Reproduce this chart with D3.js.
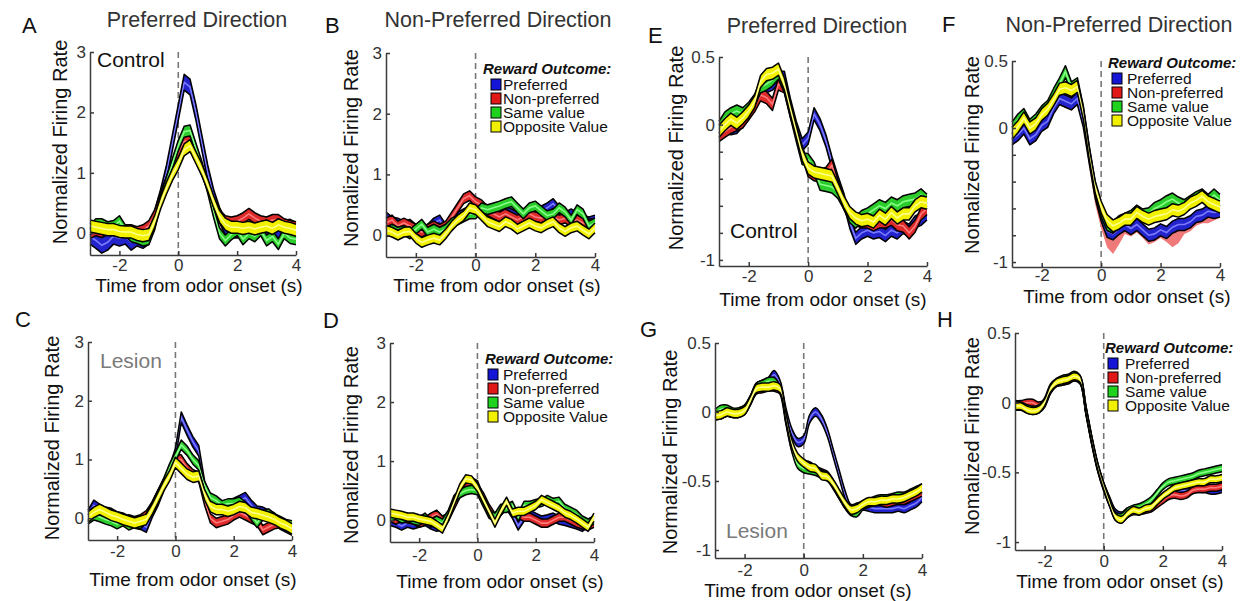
<!DOCTYPE html>
<html><head><meta charset="utf-8">
<script src="https://cdn.jsdelivr.net/npm/d3@7"></script>
<style>
body{margin:0;background:#fff;}
svg{display:block;font-family:"Liberation Sans",Arial,Helvetica,sans-serif;}
</style>
</head><body>
<svg id="chart" width="1244" height="601"></svg>
<script>
// ---------- DATA ----------
const time = [-3.0,-2.8,-2.6,-2.4,-2.2,-2.0,-1.8,-1.6,-1.4,-1.2,-1.0,-0.8,
              -0.6,-0.4,-0.2,0.0,0.2,0.4,0.6,0.8,1.0,1.2,1.4,1.6,
              1.8,2.0,2.2,2.4,2.6,2.8,3.0,3.2,3.4,3.6,3.8,4.0];
const seriesNames = ["Preferred","Non-preferred","Same value","Opposite Value"];
const xTicks = [-2,0,2,4];
const xTickLabels = ["-2","0","2","4"];
const yTicksRate = [0,1,2,3];
const yTickLabelsRate = ["0","1","2","3"];
const yTicksEF = [0.5,0,-0.2,-0.4,-0.6,-0.8,-1];
const yTickLabelsEF = ["0.5","0","","","","","-1"];
const yTicksGH = [0.5,0,-0.5,-1];
const yTickLabelsGH = ["0.5","0","-0.5","-1"];

// Panel A (Control, preferred direction)
const aPreferred = [-0.05,-0.12,-0.20,-0.15,-0.05,-0.08,-0.05,-0.15,-0.08,-0.12,-0.05,0.25,
  0.60,1.00,1.50,2.00,2.50,2.42,2.00,1.50,1.00,0.60,0.30,0.10,
  0.05,0.05,0.10,0.05,0.08,0.10,0.05,0.10,0.05,0.08,0.10,0.05];
const aNonPreferred = [0.00,0.05,0.02,0.10,0.05,0.08,0.05,0.05,0.02,0.05,0.12,0.30,
  0.60,0.85,1.10,1.35,1.52,1.52,1.30,1.05,0.80,0.50,0.30,0.20,
  0.18,0.20,0.25,0.32,0.25,0.20,0.18,0.22,0.22,0.15,0.12,0.10];
const aSameValue = [0.06,0.15,0.15,0.10,0.12,0.20,0.05,-0.05,-0.08,-0.12,-0.10,0.15,
  0.55,0.85,1.15,1.45,1.68,1.70,1.40,1.10,0.75,0.35,0.00,-0.12,
  -0.02,0.05,-0.10,0.00,-0.05,0.05,-0.12,-0.05,-0.18,0.00,-0.08,-0.10];
const aOppositeValue = [0.12,0.10,0.08,0.06,0.06,0.03,0.02,0.02,-0.02,-0.04,-0.02,0.20,
  0.50,0.75,0.97,1.15,1.38,1.45,1.25,1.05,0.80,0.52,0.28,0.15,
  0.10,0.10,0.08,0.10,0.07,0.10,0.12,0.08,0.14,0.10,0.08,0.05];
const aSem = [0.13,0.09,0.09,0.10];

// Panel B (Control, non-preferred direction)
const bPreferred = [0.30,0.22,0.20,0.15,0.18,0.10,0.05,0.10,0.20,0.25,0.10,0.20,
  0.30,0.35,0.40,0.45,0.40,0.35,0.35,0.30,0.40,0.35,0.30,0.35,
  0.40,0.35,0.40,0.45,0.52,0.40,0.30,0.35,0.30,0.25,0.22,0.25];
const bNonPreferred = [0.20,0.25,0.15,0.20,0.15,0.10,0.05,0.10,0.15,0.10,0.15,0.30,
  0.45,0.60,0.65,0.55,0.50,0.40,0.35,0.30,0.35,0.30,0.25,0.30,
  0.35,0.30,0.28,0.32,0.30,0.25,0.28,0.22,0.25,0.20,0.18,0.20];
const bSameValue = [0.05,0.10,0.05,0.08,0.02,0.10,0.18,0.05,0.10,0.05,0.10,0.20,
  0.25,0.30,0.35,0.35,0.45,0.42,0.45,0.48,0.52,0.55,0.45,0.35,
  0.45,0.48,0.40,0.32,0.35,0.45,0.38,0.25,0.42,0.35,0.15,0.20];
const bOppositeValue = [0.08,0.05,0.00,0.05,0.06,-0.05,-0.12,-0.08,-0.05,-0.08,0.02,0.15,
  0.25,0.32,0.45,0.42,0.32,0.22,0.18,0.14,0.22,0.18,0.10,0.15,
  0.20,0.15,0.12,0.18,0.22,0.12,0.06,0.12,0.15,0.08,0.02,0.12];
const bSem = [0.08,0.08,0.08,0.08];

// Panel C (Lesion, preferred direction)
const cPreferred = [0.05,0.22,0.15,0.10,0.08,0.02,0.00,-0.05,-0.08,-0.10,-0.15,0.10,
  0.30,0.55,0.80,1.10,1.72,1.50,1.30,1.15,0.55,0.28,0.22,0.20,
  0.22,0.25,0.30,0.35,0.22,0.12,0.10,0.05,0.00,-0.10,-0.15,-0.20];
const cNonPreferred = [0.05,0.08,0.10,0.05,0.02,0.00,-0.05,-0.02,-0.05,-0.02,0.05,0.20,
  0.40,0.60,0.80,1.00,1.00,0.85,0.75,0.70,0.30,0.00,-0.08,-0.05,
  -0.02,0.05,0.10,0.05,0.00,-0.05,-0.20,-0.15,-0.10,-0.08,-0.12,-0.15];
const cSameValue = [-0.02,0.05,0.02,-0.02,-0.05,-0.10,-0.05,-0.12,-0.08,-0.10,0.00,0.20,
  0.40,0.60,0.85,1.05,1.25,1.15,1.00,0.90,0.55,0.35,0.30,0.22,
  0.25,0.25,0.28,0.20,0.05,-0.08,0.05,0.08,0.00,-0.05,-0.10,-0.12];
const cOppositeValue = [0.02,0.10,0.15,0.10,0.05,0.02,-0.02,-0.05,-0.08,-0.05,-0.02,0.15,
  0.35,0.55,0.72,0.95,0.85,0.75,0.70,0.72,0.40,0.20,0.15,0.15,
  0.12,0.15,0.20,0.18,0.10,0.08,0.05,0.02,-0.02,-0.08,-0.12,-0.18];
const cSem = [0.09,0.08,0.08,0.09];

// Panel D (Lesion, non-preferred direction)
const dPreferred = [-0.02,-0.05,-0.10,-0.05,-0.08,-0.05,-0.02,-0.08,-0.12,-0.10,0.05,0.28,
  0.50,0.60,0.65,0.60,0.35,0.15,0.00,0.15,0.25,0.10,-0.10,0.05,
  0.10,0.05,0.00,0.02,0.05,0.00,-0.02,-0.05,-0.08,-0.12,-0.05,-0.02];
const dNonPreferred = [0.05,0.00,0.05,0.02,0.00,-0.05,-0.02,0.05,0.10,0.00,0.05,0.25,
  0.45,0.55,0.62,0.55,0.40,0.20,0.05,0.15,0.28,0.15,0.10,0.05,
  0.05,0.00,-0.05,-0.05,0.00,0.05,0.05,0.00,-0.05,-0.08,-0.10,-0.05];
const dSameValue = [0.05,0.08,0.02,0.05,0.00,-0.02,0.05,-0.05,0.00,-0.05,0.10,0.35,
  0.45,0.50,0.52,0.50,0.30,0.10,0.05,0.20,0.20,0.25,0.05,0.25,
  0.25,0.28,0.30,0.35,0.30,0.32,0.20,0.15,0.10,0.00,-0.05,0.00];
const dOppositeValue = [0.12,0.10,0.08,0.05,0.05,0.02,0.00,-0.02,-0.08,-0.15,0.05,0.30,
  0.55,0.70,0.68,0.55,0.35,0.15,-0.05,0.15,0.32,0.12,0.15,0.15,
  0.20,0.25,0.35,0.30,0.25,0.20,0.12,0.08,0.02,-0.05,-0.12,0.05];
const dSem = [0.07,0.07,0.07,0.07];

// Panel E (Control, preferred direction)
const ePreferred = [-0.05,-0.02,-0.03,-0.02,0.03,0.08,0.15,0.25,0.28,0.30,0.35,0.35,
  0.15,-0.02,-0.15,-0.10,0.08,0.00,-0.12,-0.28,-0.42,-0.55,-0.72,-0.84,
  -0.80,-0.78,-0.80,-0.79,-0.82,-0.78,-0.80,-0.76,-0.78,-0.72,-0.70,-0.66];
const eNonPreferred = [-0.08,-0.05,-0.02,0.00,0.02,0.08,0.14,0.22,0.20,0.15,0.30,0.28,
  0.10,-0.05,-0.20,-0.34,-0.37,-0.38,-0.36,-0.30,-0.45,-0.58,-0.66,-0.70,
  -0.72,-0.72,-0.74,-0.72,-0.72,-0.70,-0.74,-0.75,-0.80,-0.75,-0.66,-0.62];
const eSameValue = [-0.02,0.05,0.08,0.10,0.08,0.12,0.18,0.28,0.30,0.33,0.38,0.28,
  0.10,-0.08,-0.25,-0.26,-0.32,-0.44,-0.45,-0.46,-0.50,-0.58,-0.68,-0.72,
  -0.68,-0.66,-0.63,-0.60,-0.62,-0.58,-0.60,-0.57,-0.56,-0.55,-0.52,-0.56];
const eOppositeValue = [-0.05,0.00,0.04,0.01,0.05,0.10,0.17,0.32,0.37,0.38,0.41,0.30,
  0.12,-0.05,-0.22,-0.32,-0.35,-0.36,-0.37,-0.38,-0.47,-0.57,-0.65,-0.69,
  -0.71,-0.70,-0.72,-0.67,-0.70,-0.65,-0.69,-0.66,-0.66,-0.60,-0.57,-0.58];
const eSem = [0.045,0.045,0.045,0.045];

// Panel F (Control, non-preferred direction)
const fPreferred = [-0.08,-0.05,0.00,-0.08,-0.05,0.02,0.05,0.15,0.22,0.20,0.18,0.22,
  0.05,-0.22,-0.48,-0.65,-0.77,-0.79,-0.75,-0.72,-0.75,-0.72,-0.76,-0.80,
  -0.79,-0.76,-0.78,-0.74,-0.72,-0.72,-0.70,-0.66,-0.65,-0.62,-0.63,-0.62];
const fNonPreferred = [-0.08,-0.05,0.00,-0.08,-0.05,0.02,0.05,0.15,0.22,0.20,0.18,0.22,
  0.05,-0.24,-0.52,-0.70,-0.84,-0.89,-0.82,-0.74,-0.76,-0.73,-0.77,-0.82,
  -0.80,-0.77,-0.80,-0.84,-0.81,-0.74,-0.72,-0.68,-0.66,-0.66,-0.64,-0.62];
const fSameValue = [0.00,0.06,0.10,0.02,0.06,0.12,0.16,0.25,0.33,0.42,0.30,0.33,
  0.12,-0.18,-0.45,-0.62,-0.72,-0.74,-0.70,-0.68,-0.66,-0.62,-0.65,-0.64,
  -0.60,-0.58,-0.55,-0.53,-0.56,-0.58,-0.55,-0.52,-0.50,-0.54,-0.50,-0.54];
const fOppositeValue = [-0.04,0.01,0.075,0.00,0.03,0.10,0.14,0.21,0.29,0.30,0.28,0.31,
  0.11,-0.19,-0.44,-0.59,-0.69,-0.73,-0.71,-0.68,-0.68,-0.63,-0.66,-0.68,
  -0.66,-0.65,-0.64,-0.61,-0.62,-0.60,-0.56,-0.54,-0.51,-0.55,-0.57,-0.59];
const fSem = [0.045,0.05,0.045,0.045];

// Panel G (Lesion, preferred direction)
const gPreferred = [-0.03,-0.02,0.00,-0.01,0.00,0.02,0.09,0.18,0.20,0.22,0.27,0.20,
  0.00,-0.15,-0.22,-0.20,-0.05,0.00,-0.05,-0.15,-0.30,-0.45,-0.60,-0.70,
  -0.69,-0.68,-0.69,-0.70,-0.70,-0.70,-0.70,-0.69,-0.70,-0.68,-0.66,-0.62];
const gNonPreferred = [-0.02,-0.02,0.00,-0.01,-0.01,0.01,0.08,0.16,0.17,0.18,0.18,0.16,
  -0.05,-0.25,-0.35,-0.38,-0.39,-0.42,-0.44,-0.46,-0.52,-0.60,-0.67,-0.71,
  -0.70,-0.67,-0.66,-0.65,-0.65,-0.66,-0.65,-0.64,-0.64,-0.62,-0.60,-0.58];
const gSameValue = [-0.01,0.02,0.02,0.00,0.00,0.02,0.09,0.18,0.20,0.22,0.22,0.16,
  -0.06,-0.26,-0.38,-0.41,-0.42,-0.43,-0.45,-0.47,-0.53,-0.60,-0.67,-0.72,
  -0.73,-0.68,-0.66,-0.64,-0.63,-0.63,-0.62,-0.61,-0.61,-0.59,-0.57,-0.55];
const gOppositeValue = [-0.025,-0.02,0.00,-0.01,-0.01,0.01,0.085,0.17,0.18,0.18,0.19,0.17,
  -0.04,-0.23,-0.33,-0.37,-0.40,-0.41,-0.46,-0.47,-0.52,-0.59,-0.66,-0.71,
  -0.70,-0.67,-0.65,-0.65,-0.64,-0.64,-0.63,-0.63,-0.62,-0.60,-0.58,-0.55];
const gSem = [0.03,0.03,0.03,0.03];

// Panel H (Lesion, non-preferred direction)
const hPreferred = [-0.03,-0.03,-0.05,-0.06,-0.05,-0.01,0.09,0.14,0.15,0.16,0.18,0.16,
  -0.06,-0.28,-0.47,-0.60,-0.70,-0.79,-0.81,-0.78,-0.77,-0.78,-0.76,-0.75,
  -0.72,-0.69,-0.66,-0.64,-0.63,-0.63,-0.62,-0.62,-0.62,-0.63,-0.63,-0.62];
const hNonPreferred = [-0.01,-0.01,0.00,0.00,-0.02,0.00,0.09,0.14,0.15,0.16,0.18,0.16,
  -0.06,-0.28,-0.47,-0.61,-0.72,-0.82,-0.84,-0.80,-0.78,-0.78,-0.77,-0.76,
  -0.73,-0.70,-0.67,-0.66,-0.67,-0.66,-0.63,-0.62,-0.62,-0.61,-0.61,-0.60];
const hSameValue = [-0.02,-0.02,-0.04,-0.05,-0.04,0.01,0.11,0.15,0.17,0.18,0.20,0.17,
  -0.05,-0.27,-0.46,-0.60,-0.71,-0.81,-0.82,-0.78,-0.76,-0.75,-0.73,-0.70,
  -0.65,-0.60,-0.57,-0.56,-0.55,-0.54,-0.53,-0.51,-0.50,-0.49,-0.48,-0.47];
const hOppositeValue = [-0.025,-0.025,-0.05,-0.06,-0.05,0.00,0.10,0.145,0.16,0.17,0.19,0.17,
  -0.05,-0.27,-0.46,-0.60,-0.72,-0.82,-0.84,-0.80,-0.77,-0.78,-0.76,-0.75,
  -0.71,-0.67,-0.64,-0.61,-0.60,-0.59,-0.58,-0.57,-0.57,-0.55,-0.55,-0.54];
const hSem = [0.025,0.025,0.025,0.025];

// ---------- STYLE ----------
const bandFill = ["#2323cc","#dd2a2a","#2ccc2c","#f2f200"];
const bandMid  = ["#7a7aff","#ff7a7a","#86ff86","#ffff8c"];
const legendFill = ["#1515d8","#e01818","#1ed21e","#f0f000"];

const panels = [
 {series:[aPreferred,aNonPreferred,aSameValue,aOppositeValue], sem:aSem, x0:90,x1:296,yTop:52,yBot:255,yMin:-0.36,yMax:3,
  yT:yTicksRate,yL:yTickLabelsRate, xTickBase:271, smooth:false,
  ylab:["Normalized Firing Rate",67,142], xlab:[199,292], letter:["A",22,33], title:["Preferred Direction",197,27],
  note:["Control",97,67,"#111"], legend:null},
 {series:[bPreferred,bNonPreferred,bSameValue,bOppositeValue], sem:bSem, x0:386,x1:595,yTop:53,yBot:257,yMin:-0.36,yMax:3,
  yT:yTicksRate,yL:yTickLabelsRate, xTickBase:271, smooth:false,
  ylab:["Nomalized Firing Rate",358,148], xlab:[497,292], letter:["B",325,33], title:["Non-Preferred Direction",498,27],
  note:null, legend:{x:483,y:74,sx:491,tx:503}},
 {series:[cPreferred,cNonPreferred,cSameValue,cOppositeValue], sem:cSem, x0:88,x1:292,yTop:342,yBot:540,yMin:-0.37,yMax:3,
  yT:yTicksRate,yL:yTickLabelsRate, xTickBase:557, smooth:false,
  ylab:["Normalized Firing Rate",59,438], xlab:[193,586], letter:["C",15,327], title:null,
  note:["Lesion",100,368,"#7a7a7a"], legend:null},
 {series:[dPreferred,dNonPreferred,dSameValue,dOppositeValue], sem:dSem, x0:390,x1:594,yTop:343,yBot:542,yMin:-0.37,yMax:3,
  yT:yTicksRate,yL:yTickLabelsRate, xTickBase:561, smooth:false,
  ylab:["Nomalized Firing Rate",358,445], xlab:[500,588], letter:["D",323,328], title:null,
  note:null, legend:{x:485,y:364,sx:488,tx:503}},
 {series:[ePreferred,eNonPreferred,eSameValue,eOppositeValue], sem:eSem, x0:719,x1:927,yTop:57,yBot:266,yMin:-1.045,yMax:0.5,
  yT:yTicksEF,yL:yTickLabelsEF, xTickBase:282, smooth:false,
  ylab:["Normalized Firing Rate",683,148], xlab:[823,306], letter:["E",648,43], title:["Preferred Direction",817,33],
  note:["Control",730,238,"#111"], legend:null},
 {series:[fPreferred,fNonPreferred,fSameValue,fOppositeValue], sem:fSem, x0:1012,x1:1220,yTop:61,yBot:267,yMin:-1.037,yMax:0.5,
  yT:yTicksEF,yL:yTickLabelsEF, xTickBase:281, smooth:false, fadeRed:true,
  ylab:["Nomalized Firing Rate",979,155], xlab:[1127,303], letter:["F",942,32], title:["Non-Preferred Direction",1119,32],
  note:null, legend:{x:1108,y:68,sx:1112,tx:1127}},
 {series:[gPreferred,gNonPreferred,gSameValue,gOppositeValue], sem:gSem, x0:715,x1:922,yTop:343,yBot:558,yMin:-1.058,yMax:0.5,
  yT:yTicksGH,yL:yTickLabelsGH, xTickBase:576, smooth:true,
  ylab:["Normalized Firing Rate",677,452], xlab:[808,597], letter:["G",640,337], title:null,
  note:["Lesion",726,538,"#7a7a7a"], legend:null},
 {series:[hPreferred,hNonPreferred,hSameValue,hOppositeValue], sem:hSem, x0:1015,x1:1222,yTop:333,yBot:550,yMin:-1.057,yMax:0.5,
  yT:yTicksGH,yL:yTickLabelsGH, xTickBase:567, smooth:true,
  ylab:["Nomalized Firing Rate",979,436], xlab:[1120,588], letter:["H",937,327], title:null,
  note:null, legend:{x:1105,y:353,sx:1108,tx:1125}}
];

const svg = d3.select("#chart");

panels.forEach(p => {
  const x = d3.scaleLinear().domain([-3,4]).range([p.x0,p.x1]);
  const y = d3.scaleLinear().domain([p.yMin,p.yMax]).range([p.yBot,p.yTop]);
  const g = svg.append("g");
  const curve = p.smooth ? d3.curveCatmullRom.alpha(0.5) : d3.curveLinear;

  // dashed zero line
  g.append("line").attr("x1",x(0)).attr("x2",x(0)).attr("y1",y(p.yMax)).attr("y2",p.yBot)
    .attr("stroke","#777").attr("stroke-width",1.6).attr("stroke-dasharray","6,4");

  // bands (faded red, when present, goes underneath)
  const order = p.fadeRed ? [1,0,2,3] : [0,1,2,3];
  order.forEach(k => {
    const vals = p.series[k];
    const s = p.sem[k];
    const faded = p.fadeRed && k === 1;
    const pts = time.map((t,i) => ({t:t, m:vals[i]}));
    const area = d3.area().x(d=>x(d.t)).y0(d=>y(d.m - s)).y1(d=>y(d.m + s)).curve(curve);
    const up = d3.line().x(d=>x(d.t)).y(d=>y(d.m + s)).curve(curve);
    const lo = d3.line().x(d=>x(d.t)).y(d=>y(d.m - s)).curve(curve);
    const mid = d3.line().x(d=>x(d.t)).y(d=>y(d.m)).curve(curve);
    g.append("path").attr("d",area(pts)).attr("fill",faded ? "#f07a7a" : bandFill[k]);
    if (faded) return;
    g.append("path").attr("d",mid(pts)).attr("fill","none").attr("stroke",bandMid[k]).attr("stroke-width",1.6);
    g.append("path").attr("d",up(pts)).attr("fill","none").attr("stroke","#000").attr("stroke-width",1.5).attr("stroke-linejoin","round");
    g.append("path").attr("d",lo(pts)).attr("fill","none").attr("stroke","#000").attr("stroke-width",1.5).attr("stroke-linejoin","round");
  });

  // axes
  const ya = g.append("g").attr("transform",`translate(${p.x0},0)`)
    .call(d3.axisLeft(y).tickValues(p.yT).tickSize(-4).tickSizeOuter(0).tickPadding(4)
      .tickFormat((d,i)=>p.yL[i]));
  const xa = g.append("g").attr("transform",`translate(0,${p.yBot})`)
    .call(d3.axisBottom(x).tickValues(xTicks).tickSize(-4).tickSizeOuter(0).tickPadding(p.xTickBase - p.yBot - 12)
      .tickFormat((d,i)=>xTickLabels[i]));
  [ya,xa].forEach(a => {
    a.attr("font-size",17).attr("font-family","'Liberation Sans',Arial,sans-serif");
    a.selectAll("path,line").attr("stroke","#3a3a3a").attr("stroke-width",1.5);
    a.selectAll("text").attr("fill","#333");
  });

  // labels
  g.append("text").attr("transform",`translate(${p.ylab[1]},${p.ylab[2]}) rotate(-90)`)
    .attr("text-anchor","middle").attr("font-size",20).attr("fill","#111").text(p.ylab[0]);
  g.append("text").attr("x",p.xlab[0]).attr("y",p.xlab[1]).attr("text-anchor","middle")
    .attr("font-size",19).attr("fill","#111").text("Time from odor onset (s)");
  g.append("text").attr("x",p.letter[1]).attr("y",p.letter[2]).attr("font-size",22).attr("fill","#111").text(p.letter[0]);
  if (p.title) g.append("text").attr("x",p.title[1]).attr("y",p.title[2]).attr("text-anchor","middle")
    .attr("font-size",21.5).attr("fill","#333").text(p.title[0]);
  if (p.note) g.append("text").attr("x",p.note[1]).attr("y",p.note[2]).attr("font-size",21)
    .attr("fill",p.note[3]).text(p.note[0]);

  // legend
  if (p.legend) {
    const L = p.legend;
    g.append("text").attr("x",L.x).attr("y",L.y).attr("font-size",15).attr("font-weight","bold")
      .attr("font-style","italic").attr("fill","#111").text("Reward Outcome:");
    seriesNames.forEach((nm,k) => {
      const by = L.y + 16 + 14*k;
      g.append("rect").attr("x",L.sx).attr("y",by-11).attr("width",10).attr("height",11)
        .attr("fill",legendFill[k]).attr("stroke","#000").attr("stroke-width",1);
      g.append("text").attr("x",L.tx).attr("y",by).attr("font-size",15.5).attr("fill","#111").text(nm);
    });
  }
});
</script>
</body></html>
